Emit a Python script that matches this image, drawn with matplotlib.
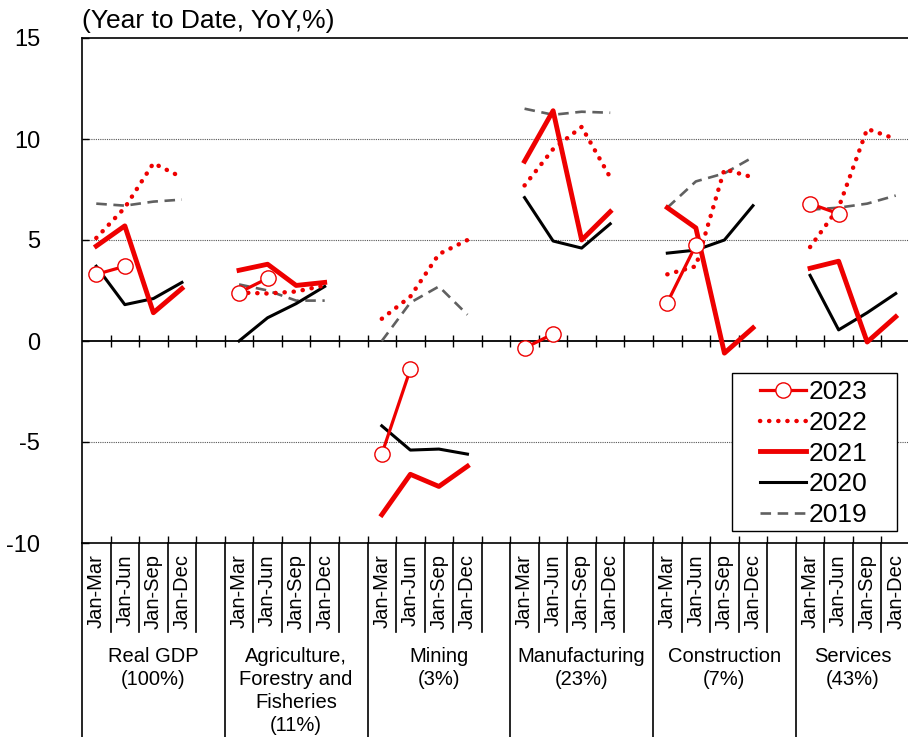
import numpy as np
import matplotlib.pyplot as plt
from matplotlib.patches import Rectangle

plt.rcParams['font.family'] = ['Liberation Sans', 'DejaVu Sans']
plt.rcParams['axes.unicode_minus'] = False

groups = ['Real GDP\n(100%)', 'Agriculture,\nForestry and\nFisheries\n(11%)', 'Mining\n(3%)',
          'Manufacturing\n(23%)', 'Construction\n(7%)', 'Services\n(43%)']
quarters = ['Jan-Mar', 'Jan-Jun', 'Jan-Sep', 'Jan-Dec']
nan = np.nan

# values per group, 4 quarters each
y2023 = [3.3, 3.7, nan, nan, 2.4, 3.1, nan, nan, -5.6, -1.4, nan, nan,
         -0.35, 0.35, nan, nan, 1.9, 4.75, nan, nan, 6.8, 6.3, nan, nan]
y2022 = [5.1, 6.6, 8.8, 8.1, 2.4, 2.35, 2.45, 2.75, 1.1, 2.2, 4.3, 5.0,
         7.7, 9.5, 10.6, 8.1, 3.3, 3.7, 8.5, 8.1, 4.65, 6.6, 10.5, 10.0]
y2021 = [4.7, 5.7, 1.4, 2.6, 3.5, 3.8, 2.75, 2.9, -8.6, -6.6, -7.2, -6.2,
         8.9, 11.4, 5.0, 6.4, 6.6, 5.6, -0.6, 0.65, 3.6, 3.95, -0.05, 1.2]
y2020 = [3.7, 1.8, 2.1, 2.9, 0.0, 1.15, 1.85, 2.7, -4.2, -5.4, -5.35, -5.6,
         7.1, 4.95, 4.6, 5.8, 4.35, 4.5, 5.0, 6.7, 3.25, 0.55, 1.4, 2.35]
y2019 = [6.8, 6.7, 6.9, 7.0, 2.8, 2.5, 2.0, 2.0, 0.0, 1.9, 2.7, 1.3,
         11.5, 11.2, 11.35, 11.3, 6.6, 7.9, 8.3, 9.1, 6.5, 6.6, 6.8, 7.2]

n_groups = len(groups)
n_slots = n_groups * 5 - 1


def to_slots(vals):
    """Spread 4-per-group values into slots with a blank slot between groups"""
    out = np.full(n_slots, np.nan)
    for g in range(n_groups):
        for q in range(4):
            out[5 * g + q] = vals[4 * g + q]
    return out


x = np.arange(n_slots)
red = '#EE0000'

fig = plt.figure(figsize=(9.08, 7.37), dpi=100)
ax = fig.add_axes([82 / 908, 1 - 543 / 737, 828 / 908, 505 / 737])

ax.axhline(0, color='black', lw=1.3, zorder=1)
for yv in [5, 10, -5]:
    ax.axhline(yv, color='#555555', lw=0.8, ls=(0, (1, 1)), zorder=0)

ax.plot(x, to_slots(y2019), color='#606060', lw=1.9, ls=(0, (4, 2.5)), zorder=2)
ax.plot(x, to_slots(y2020), color='black', lw=2.2, zorder=3)
ax.plot(x, to_slots(y2021), color=red, lw=3.5, zorder=4)
ax.plot(x, to_slots(y2022), color=red, lw=3.2, ls=(0, (0.05, 2.0)),
        dash_capstyle='round', zorder=5)
ax.plot(x, to_slots(y2023), color=red, lw=2.3, marker='o', markersize=11,
        markerfacecolor='white', markeredgecolor=red, markeredgewidth=1.0, zorder=6)

# legend proxies in display order
h23, = ax.plot([], [], color=red, lw=2.3, marker='o', markersize=11,
               markerfacecolor='white', markeredgecolor=red, markeredgewidth=1.0)
h22, = ax.plot([], [], color=red, lw=3.2, ls=(0, (0.05, 2.0)), dash_capstyle='round')
h21, = ax.plot([], [], color=red, lw=3.5)
h20, = ax.plot([], [], color='black', lw=2.2)
h19, = ax.plot([], [], color='#606060', lw=1.9, ls=(0, (4, 2.5)))
ax.add_patch(Rectangle((0.785, 0.0238), 0.1993, 0.3129, transform=ax.transAxes,
                       facecolor='white', edgecolor='black', lw=1.0, zorder=7))
leg = ax.legend([h23, h22, h21, h20, h19], ['2023', '2022', '2021', '2020', '2019'],
                loc='upper left', bbox_to_anchor=(0.811, 0.335), fontsize=19,
                handlelength=1.75, handletextpad=0.1, labelspacing=0.25,
                borderpad=0.25, borderaxespad=0, frameon=False)
leg.set_zorder(8)

ax.set_xlim(-0.5, n_slots - 0.5)
ax.set_ylim(-10, 15)
ax.set_yticks([-10, -5, 0, 5, 10, 15])
ax.tick_params(axis='y', direction='in', length=5, width=1, pad=30, labelsize=17)

boundaries = np.arange(0.5, n_slots - 0.5, 1)
ax.set_xticks(boundaries)
ax.set_xticklabels([])
ax.tick_params(axis='x', direction='in', length=5, width=1)
ax.vlines(boundaries, -0.3, 0.3, color='black', lw=1, zorder=1)

for side in ['left', 'top', 'bottom']:
    ax.spines[side].set_linewidth(1.2)
ax.spines['right'].set_visible(False)

# category area below the axis
tr = ax.get_xaxis_transform()
for g in range(n_groups):
    start = 5 * g - 0.5
    ax.plot([start, start], [0, -0.39], color='black', lw=1.2, transform=tr, clip_on=False)
    for q in range(4):
        ax.plot([start + q + 1] * 2, [0, -0.176], color='black', lw=1.2,
                transform=tr, clip_on=False)
        ax.text(5 * g + q, -0.022, quarters[q], rotation=90, ha='center', va='top',
                fontsize=14.5, transform=tr)
    right = min(start + 5, n_slots - 0.5)
    ax.text((start + right) / 2, -0.205, groups[g], ha='center', va='top',
            fontsize=14.5, linespacing=1.28, transform=tr)

fig.text(82 / 908, 1 - 21 / 737, '(Year to Date, YoY,%)', fontsize=19,
         ha='left', va='center')

fig.savefig('out.png', dpi=100)
